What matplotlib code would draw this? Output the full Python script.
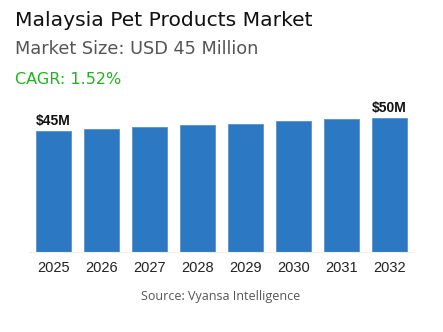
import matplotlib
matplotlib.use("Agg")
import matplotlib.pyplot as plt

years = ["2025", "2026", "2027", "2028", "2029", "2030", "2031", "2032"]
values = [45.0, 45.7, 46.5, 47.2, 47.8, 48.7, 49.5, 50.0]
bar_labels = {0: "$45M", 7: "$50M"}

title = "Malaysia Pet Products Market"
subtitle = "Market Size: USD 45 Million"
cagr = "CAGR: 1.52%"
source = "Source: Vyansa Intelligence"

fig = plt.figure(figsize=(4.43, 3.32), dpi=100)
ax = fig.add_axes([29.3 / 443, 0.240, 384 / 443, 0.444])

x = range(len(years))
ax.bar(x, values, width=0.72, color="#2d78c2", edgecolor="#5a92cc", linewidth=0.6)
ax.set_xlim(-0.5, len(years) - 0.5)
ax.set_ylim(0, 54.8)

for i, txt in bar_labels.items():
    ax.text(i, values[i] + 1.2, txt, ha="center", va="bottom",
            fontsize=10, fontweight="bold", family="Liberation Sans", color="#111111")

ax.set_xticks(list(x))
ax.set_xticklabels(years, fontsize=10.5, family="Liberation Sans", color="#222222")
ax.tick_params(axis="x", length=0, pad=6)
ax.set_yticks([])
for s in ["top", "right", "left"]:
    ax.spines[s].set_visible(False)
ax.spines["bottom"].set_color("#eeeeee")
ax.spines["bottom"].set_linewidth(0.8)

fig.text(15 / 443, 1 - 26 / 332, title, fontsize=14.6, family="DejaVu Sans", color="#111111")
fig.text(15 / 443, 1 - 54.5 / 332, subtitle, fontsize=12.8, family="DejaVu Sans", color="#555555")
fig.text(15 / 443, 1 - 83.5 / 332, cagr, fontsize=11.5, family="DejaVu Sans", color="#1db51d")
fig.text(221 / 443, 1 - 300 / 332, source, fontsize=9, family="Open Sans",
         color="#555555", ha="center")

fig.savefig("out.png", dpi=100)
